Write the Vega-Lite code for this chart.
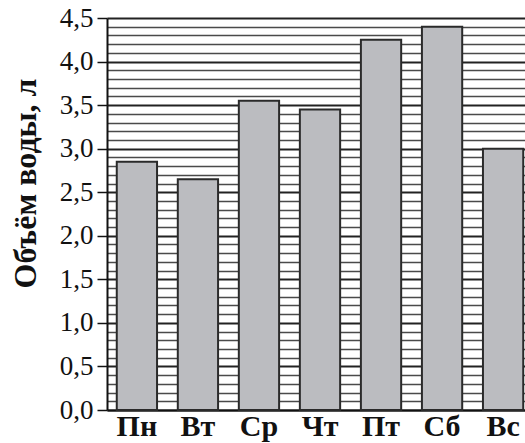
{
  "$schema": "https://vega.github.io/schema/vega-lite/v6.json",
  "autosize": {"type": "none"},
  "padding": {"left": 107, "top": 18, "right": 0, "bottom": 33},
  "width": 426,
  "height": 392,
  "background": "white",
  "data": {"values": [
    {"day": "Пн", "volume": 2.85},
    {"day": "Вт", "volume": 2.65},
    {"day": "Ср", "volume": 3.55},
    {"day": "Чт", "volume": 3.45},
    {"day": "Пт", "volume": 4.25},
    {"day": "Сб", "volume": 4.4},
    {"day": "Вс", "volume": 3.0}
  ]},
  "mark": {"type": "bar", "fill": "#bbbcc0", "stroke": "#2a2a2a", "strokeWidth": 2},
  "encoding": {
    "x": {
      "field": "day", "type": "nominal", "sort": null,
      "scale": {"paddingInner": 0.34, "paddingOuter": 0.16},
      "axis": {
        "title": null, "labelAngle": 0, "ticks": false,
        "labelFont": "Liberation Serif", "labelFontWeight": "bold", "labelFontSize": 30,
        "labelColor": "#111", "labelBaseline": "alphabetic", "labelPadding": 25,
        "domainColor": "#111", "domainWidth": 2
      }
    },
    "y": {
      "field": "volume", "type": "quantitative",
      "scale": {"domain": [0, 4.5], "nice": false, "zero": true},
      "axis": {
        "title": "Объём воды, л",
        "titleFont": "Liberation Serif", "titleFontWeight": "bold", "titleFontSize": 32,
        "titleColor": "#111", "titleX": -72, "titleY": 165, "titleBaseline": "alphabetic", "titleAngle": -90,
        "values": [0, 0.1, 0.2, 0.3, 0.4, 0.5, 0.6, 0.7, 0.8, 0.9, 1, 1.1, 1.2, 1.3, 1.4, 1.5, 1.6, 1.7, 1.8, 1.9, 2, 2.1, 2.2, 2.3, 2.4, 2.5, 2.6, 2.7, 2.8, 2.9, 3, 3.1, 3.2, 3.3, 3.4, 3.5, 3.6, 3.7, 3.8, 3.9, 4, 4.1, 4.2, 4.3, 4.4, 4.5],
        "labelExpr": "abs(datum.value*2 - round(datum.value*2)) < 0.001 ? replace(format(datum.value, '.1f'), '.', ',') : ''",
        "labelFont": "Liberation Serif", "labelFontSize": 27, "labelColor": "#111",
        "labelPadding": 4, "labelOverlap": false,
        "tickSize": 10, "tickColor": "#111", "tickWidth": 1.5,
        "tickOpacity": {"condition": {"test": "abs(datum.value*2 - round(datum.value*2)) < 0.001", "value": 1}, "value": 0},
        "grid": true,
        "gridColor": {"condition": {"test": "abs(datum.value*2 - round(datum.value*2)) < 0.001", "value": "#222"}, "value": "#4a4a4a"},
        "gridWidth": {"condition": {"test": "abs(datum.value*2 - round(datum.value*2)) < 0.001", "value": 2}, "value": 1.6},
        "gridOpacity": 1,
        "domainColor": "#111", "domainWidth": 2
      }
    }
  },
  "config": {"view": {"stroke": null}}
}
